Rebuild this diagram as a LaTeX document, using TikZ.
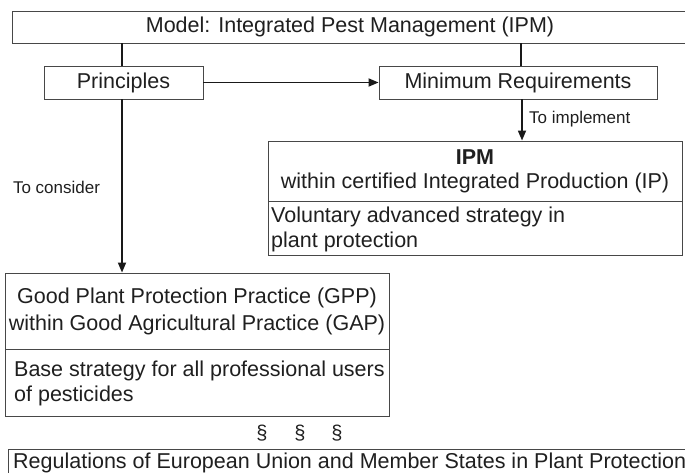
\documentclass[tikz,border=0pt]{standalone}
\usepackage{fontspec}
\setmainfont{Liberation Sans}
\usetikzlibrary{arrows.meta}
\begin{document}
\begin{tikzpicture}[x=1pt,y=-1pt,
  box/.style={draw=black!72, line width=0.9pt, inner sep=0pt, font=\fontsize{21.5}{26}\selectfont, text=black!88},
  txt/.style={inner sep=0pt, align=left, font=\fontsize{21.5}{25}\selectfont, text=black!88},
  conn/.style={draw=black!90, line width=1.7pt},
  arr/.style={conn, -{Triangle[length=10pt,width=8pt]}},
  lbl/.style={font=\fontsize{17}{20}\selectfont, text=black!88, inner sep=0pt},
  para/.style={font=\fontsize{20}{22}\selectfont, text=black!88, inner sep=0pt}]
\useasboundingbox (0,0) rectangle (685,473);
\clip (0,0) rectangle (685,473);
\node[box, minimum width=676, minimum height=32] (model) at (350,27) {Model: Integrated Pest Management (IPM)};
\node[box, minimum width=159, minimum height=33] (principles) at (123.5,82.5) {Principles};
\node[box, minimum width=278, minimum height=33] (minreq) at (518,82.5) {Minimum Requirements};
\node[box, minimum width=414, minimum height=60, align=center, font=\fontsize{21.5}{24}\selectfont] (ipmtop) at (475,171) {\textbf{IPM}\\within certified Integrated Production (IP)};
\node[box, minimum width=414, minimum height=54] (ipmbot) at (475,228) {};
\node[txt, anchor=west] (ipmbottxt) at (271,229) {Voluntary advanced strategy in\\plant protection};
\node[box, minimum width=384, minimum height=76, align=center, font=\fontsize{21.5}{27}\selectfont] (gpptop) at (197,311) {Good Plant Protection Practice (GPP)\\within Good Agricultural Practice (GAP)};
\node[box, minimum width=384, minimum height=67] (gppbot) at (197,382.5) {};
\node[txt, anchor=west] (gppbottxt) at (14,383) {Base strategy for all professional users\\of pesticides};
\node[para] (s1) at (262,433) {§};
\node[para] (s2) at (300,433) {§};
\node[para] (s3) at (337,433) {§};
\node[box, anchor=north west, minimum width=692, minimum height=40] (regs) at (8,449) {};
\node[txt, anchor=west] (regstxt) at (13,463) {Regulations of European Union and Member States in Plant Protection};
\node[lbl] (consider) at (56.5,187) {To consider};
\node[lbl, anchor=west] (implement) at (529,119) {To implement};
\draw[conn] ([xshift=-1.5pt]principles.north) -- ([xshift=-1.5pt]principles.north |- model.south);
\draw[conn] ([xshift=3pt]minreq.north) -- ([xshift=3pt]minreq.north |- model.south);
\draw[arr] (principles.east) -- (minreq.west);
\draw[arr] ([xshift=-1.5pt]principles.south) -- ([xshift=-1.5pt]principles.south |- gpptop.north);
\draw[arr] ([xshift=4pt]minreq.south) -- ([xshift=4pt]minreq.south |- ipmtop.north);
\end{tikzpicture}
\end{document}
